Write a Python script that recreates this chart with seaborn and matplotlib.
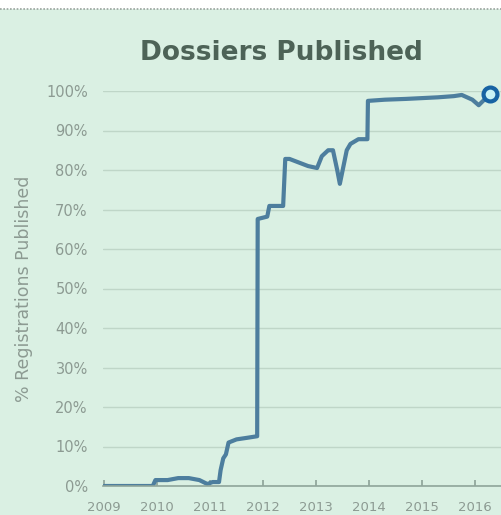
import matplotlib
matplotlib.use("Agg")
import matplotlib.pyplot as plt
import seaborn as sns
import pandas as pd
from matplotlib.lines import Line2D
from matplotlib.patches import Rectangle

# ---- data ----
years = [2009.0, 2009.92, 2009.97, 2010.2, 2010.4, 2010.6, 2010.8, 2010.95,
         2011.05, 2011.17, 2011.2, 2011.25, 2011.3, 2011.35, 2011.5, 2011.7,
         2011.89, 2011.9, 2012.08, 2012.12, 2012.38, 2012.42, 2012.5, 2012.85,
         2013.02, 2013.11, 2013.23, 2013.32, 2013.4, 2013.45, 2013.58, 2013.65,
         2013.8, 2013.97, 2013.98, 2014.3, 2014.7, 2015.0,
         2015.3, 2015.6, 2015.75, 2015.95, 2016.07, 2016.28]
pct_published = [0, 0, 1.5, 1.5, 2, 2, 1.5, 0.5,
                 1, 1, 4, 7, 8, 11, 11.8, 12.2,
                 12.6, 67.6, 68.2, 70.9, 70.9, 82.8, 82.8, 81,
                 80.5, 83.5, 85, 85, 80, 76.5, 85, 86.6,
                 87.8, 87.8, 97.5, 97.8, 98, 98.2,
                 98.4, 98.7, 99, 97.8, 96.4, 99.2]
year_ticks = [2009, 2010, 2011, 2012, 2013, 2014, 2015, 2016]
pct_ticks = [0, 10, 20, 30, 40, 50, 60, 70, 80, 90, 100]

df = pd.DataFrame({"year": years, "pct": pct_published})

BG = "#daf0e3"
GRID = "#bfd6c8"
TXT = "#8c9a92"
LINE = "#4d7e9e"

sns.set_theme(style="white")
fig = plt.figure(figsize=(5.02, 5.15), dpi=100, facecolor=BG)
fig.patches.append(Rectangle((0, 1 - 9 / 515), 1, 9 / 515, transform=fig.transFigure,
                             facecolor="white", edgecolor="none", zorder=-10))
fig.lines.append(Line2D([0, 1], [1 - 9 / 515] * 2, transform=fig.transFigure,
                        color="#9aa39e", lw=1.2, ls=(0, (1, 1)), zorder=-9))

ax = fig.add_axes([103 / 502, 29 / 515, 1 - 103 / 502, (485 - 90) / 515])
ax.set_facecolor(BG)

sns.lineplot(data=df, x="year", y="pct", ax=ax, sort=False, estimator=None,
             color=LINE, lw=3.0)
ax.plot([years[-1]], [pct_published[-1]], marker="o", ms=10, mfc="#c9f2f5",
        mec="#1763a3", mew=3, clip_on=False, zorder=5)

ax.set_xlim(2009 - 1 / 53, 2009 + (502 - 104) / 53)
ax.set_ylim(0, 100)
ax.set_yticks(pct_ticks)
ax.set_yticklabels([f"{p}%" for p in pct_ticks])
ax.set_xticks(year_ticks)
ax.set_xticklabels([str(y) for y in year_ticks])
ax.yaxis.grid(True, color=GRID, lw=1)
ax.xaxis.grid(False)
for s in ["top", "right", "left"]:
    ax.spines[s].set_visible(False)
ax.spines["bottom"].set_color("#8fa59a")
ax.spines["bottom"].set_linewidth(1.2)
ax.tick_params(axis="x", direction="in", length=4, color="#8fa59a", colors=TXT,
               labelsize=9.5, pad=11, bottom=True)
ax.tick_params(axis="y", length=0, colors=TXT, labelsize=10.5, pad=11)
ax.set_xlabel("")
ax.set_ylabel("% Registrations Published", color=TXT, fontsize=12.5, labelpad=9)

fig.text(0.56, 1 - 53 / 515, "Dossiers Published", ha="center", va="center",
         fontsize=19, fontweight="bold", color="#4d6357")

fig.savefig("out.png", dpi=100, facecolor=BG)
